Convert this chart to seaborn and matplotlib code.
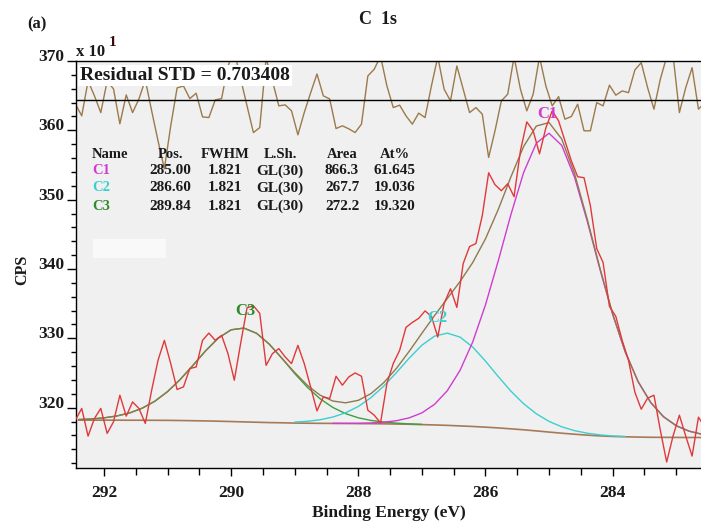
import numpy as np
import pandas as pd
import matplotlib
matplotlib.use("Agg")
import matplotlib.pyplot as plt
import seaborn as sns
from matplotlib.patches import Rectangle
from matplotlib.ticker import MultipleLocator

# ---------------- data (CPS in units of x10) ----------------
raw_be = [292.45, 292.35, 292.25, 292.15, 292.05, 291.95, 291.85, 291.75, 291.65, 291.55,
          291.45, 291.35, 291.25, 291.15, 291.05, 290.95, 290.85, 290.75, 290.65, 290.55,
          290.45, 290.35, 290.25, 290.15, 290.05, 289.95, 289.85, 289.75, 289.65, 289.55,
          289.45, 289.35, 289.25, 289.15, 289.05, 288.95, 288.85, 288.75, 288.65, 288.55,
          288.45, 288.35, 288.25, 288.15, 288.05, 287.95, 287.85, 287.75, 287.65, 287.55,
          287.45, 287.35, 287.25, 287.15, 287.05, 286.95, 286.85, 286.75, 286.65, 286.55,
          286.45, 286.35, 286.25, 286.15, 286.05, 285.95, 285.85, 285.75, 285.65, 285.55,
          285.45, 285.35, 285.25, 285.15, 285.05, 284.95, 284.85, 284.75, 284.65, 284.55,
          284.45, 284.35, 284.25, 284.15, 284.05, 283.95, 283.85, 283.75, 283.65, 283.55,
          283.45, 283.35, 283.25, 283.15, 283.05, 282.95, 282.85, 282.75, 282.65, 282.55]

raw_cps = [318.20, 319.89, 315.90, 318.45, 319.89, 316.29, 317.96, 321.80, 318.78, 320.83,
           319.89, 317.73, 322.52, 326.83, 329.71, 326.36, 322.62, 323.00, 325.64, 325.87,
           329.71, 330.76, 329.71, 330.43, 327.80, 323.96, 329.30, 334.40, 334.70, 333.60,
           326.10, 327.80, 328.52, 327.31, 326.36, 328.99, 326.36, 323.00, 319.54, 321.55,
           321.32, 324.53, 323.24, 324.43, 325.01, 324.53, 319.64, 318.92, 317.81, 323.48,
           326.37, 328.27, 331.58, 332.30, 332.88, 333.96, 333.17, 330.19, 335.04, 337.15,
           334.46, 340.79, 343.24, 343.67, 347.70, 353.88, 352.16, 351.29, 352.30, 350.43,
           357.05, 361.22, 359.93, 356.62, 360.36, 362.81, 361.37, 358.49, 355.61, 353.31,
           353.17, 349.14, 342.95, 340.94, 334.60, 333.17, 329.71, 326.83, 322.23, 319.78,
           321.37, 321.80, 316.76, 312.16, 315.90, 318.92, 315.90, 313.02, 318.63, 317.19]

residual = [-0.58, -2.30, 2.73, 0.58, -1.83, 2.73, 1.58, -3.45, 0.72, -1.83,
            0.14, 2.88, -1.58, -5.90, -9.93, -3.74, 1.73, 2.01, 0.19, 0.96,
            -2.45, -2.55, 0.00, 0.19, 4.89, 7.05, 3.02, -0.86, -4.71, -3.99,
            6.00, 2.73, -0.86, -0.72, -1.58, -5.04, -1.83, 1.01, 3.74, 0.58,
            0.14, -4.13, -3.74, -4.17, -4.71, -3.50, 3.45, 4.42, 6.30, 2.01,
            -1.11, -0.76, -2.30, -3.50, -1.91, -2.55, 2.01, 6.20, 1.54, -0.14,
            4.89, 1.54, -1.83, -1.11, -2.06, -8.30, -4.46, -0.14, 0.82, 6.20,
            1.54, -1.58, 0.82, 6.20, 2.01, -0.86, 0.47, -2.78, -2.40, -0.62,
            -4.46, -4.46, -0.39, -0.86, 2.12, 0.68, 1.29, 1.05, 4.32, 5.37,
            1.77, -1.34, 2.98, 6.20, 6.50, -1.83, 1.77, 4.65, -1.34, -0.39]
residual_zero = 364.39

comp_be = [292.4, 292.2, 292.0, 291.8, 291.6, 291.4, 291.2, 291.0, 290.8, 290.6,
           290.4, 290.2, 290.0, 289.8, 289.6, 289.4, 289.2, 289.0, 288.8, 288.6,
           288.4, 288.2, 288.0, 287.8, 287.6, 287.4, 287.2, 287.0, 286.8, 286.6,
           286.4, 286.2, 286.0, 285.8, 285.6, 285.4, 285.2, 285.0, 284.8, 284.6,
           284.4, 284.2, 284.0, 283.8, 283.6, 283.4, 283.2, 283.0, 282.8, 282.6]

background = [318.20, 318.20, 318.20, 318.20, 318.19, 318.19, 318.18, 318.17, 318.15, 318.12,
              318.09, 318.05, 318.00, 317.95, 317.90, 317.85, 317.82, 317.78, 317.76, 317.74,
              317.73, 317.72, 317.70, 317.69, 317.67, 317.64, 317.61, 317.56, 317.51, 317.45,
              317.37, 317.29, 317.19, 317.08, 316.95, 316.81, 316.65, 316.48, 316.32, 316.17,
              316.04, 315.93, 315.85, 315.80, 315.76, 315.73, 315.72, 315.71, 315.70, 315.70]

nan = np.nan
c1_height = [nan, nan, nan, nan, nan, nan, nan, nan, nan, nan,
             nan, nan, nan, nan, nan, nan, nan, nan, nan, nan,
             0.01, 0.02, 0.05, 0.11, 0.24, 0.48, 0.92, 1.69, 2.98, 5.00,
             8.01, 12.20, 17.63, 24.06, 30.89, 37.10, 41.50, 43.10, 41.50, 37.10,
             30.89, 24.06, 17.63, 12.20, 8.01, 5.00, 2.98, 1.69, 0.92, 0.48]
c2_height = [nan, nan, nan, nan, nan, nan, nan, nan, nan, nan,
             nan, nan, nan, nan, nan, nan, nan, 0.15, 0.28, 0.52,
             0.92, 1.54, 2.47, 3.76, 5.44, 7.42, 9.53, 11.45, 12.81, 13.30,
             12.81, 11.45, 9.53, 7.42, 5.44, 3.76, 2.47, 1.54, 0.92, 0.52,
             0.28, 0.15, 0.07, 0.04, nan, nan, nan, nan, nan, nan]
c3_height = [0.09, 0.17, 0.33, 0.60, 1.04, 1.73, 2.75, 4.15, 5.93, 7.99,
             10.13, 12.00, 13.23, 13.53, 12.83, 11.31, 9.29, 7.14, 5.17, 3.54,
             2.30, 1.42, 0.84, 0.47, 0.26, 0.13, 0.06, 0.03, nan, nan,
             nan, nan, nan, nan, nan, nan, nan, nan, nan, nan,
             nan, nan, nan, nan, nan, nan, nan, nan, nan, nan]

comp_names = ["C1", "C2", "C3"]
comp_pos = ["285.00", "286.60", "289.84"]
comp_fwhm = ["1.821", "1.821", "1.821"]
comp_lsh = ["GL(30)", "GL(30)", "GL(30)"]
comp_area = ["866.3", "267.7", "272.2"]
comp_at = ["61.645", "19.036", "19.320"]
label_be = [285.02, 286.76, 289.77]
label_cps = [362.3, 332.9, 334.0]

# ---------------- styling ----------------
sns.set_theme(style="ticks")
plt.rcParams['font.family'] = ['Liberation Serif', 'DejaVu Serif']
plt.rcParams['font.weight'] = 'bold'
plt.rcParams['axes.labelweight'] = 'bold'

RED = '#e0393a'
ENV = '#8f7a50'
BG = '#a67a58'
RES = '#9b7a4c'
MAG = '#d03cd0'
CYA = '#3ccfd0'
GRN = '#3f9f3f'
GRN_TXT = '#2f8a2f'
DARK = '#1a1a1a'
comp_text_colors = [MAG, CYA, GRN_TXT]

W, H = 701, 522
fig = plt.figure(figsize=(W / 100, H / 100), dpi=100)
ax = fig.add_axes([76 / W, 54 / H, 625 / W, 407 / H])
ax.set_facecolor('#f0f0f0')

def fx(px):
    return px / W

def fy(py):
    return 1 - py / H

# light patch (legend remnant)
fig.patches.append(Rectangle((fx(93), fy(258)), (166 - 93) / W, (258 - 239) / H,
                             transform=fig.transFigure, facecolor='#f9f9f9',
                             edgecolor='none', zorder=3))

# residual trace
res_df = pd.DataFrame({'be': raw_be, 'r': np.array(residual) + residual_zero})
sns.lineplot(data=res_df, x='be', y='r', color=RES, lw=1.0, ax=ax, sort=False,
             estimator=None, zorder=2)
ax.axhline(residual_zero, color='black', lw=1.0, zorder=2.5)

# background and components
comp_df = pd.DataFrame({'be': comp_be, 'bg': background,
                        'c1': c1_height, 'c2': c2_height, 'c3': c3_height})
comp_df['env'] = comp_df['bg'] + comp_df[['c1', 'c2', 'c3']].fillna(0).sum(axis=1)

sns.lineplot(data=comp_df, x='be', y='bg', color=BG, lw=1.2, ax=ax, sort=False,
             estimator=None, zorder=4)
for col, c in zip(['c3', 'c2', 'c1'], [GRN, CYA, MAG]):
    sub = comp_df.dropna(subset=[col])
    sns.lineplot(x=sub['be'], y=sub['bg'] + sub[col], color=c, lw=1.0, ax=ax,
                 sort=False, estimator=None, zorder=5)
sns.lineplot(data=comp_df, x='be', y='env', color=ENV, lw=1.0, ax=ax, sort=False,
             estimator=None, zorder=6)

# raw data
raw_df = pd.DataFrame({'be': raw_be, 'cps': raw_cps})
sns.lineplot(data=raw_df, x='be', y='cps', color=RED, lw=1.0, ax=ax, sort=False,
             estimator=None, zorder=7)

# component labels
for name, xb, yc, c in zip(comp_names, label_be, label_cps, comp_text_colors):
    ax.text(xb, yc, name, color=c, fontsize=12, fontweight='bold',
            ha='center', va='center', zorder=8)

# axes limits / ticks
ax.set_xlim(292.44, 282.61)
ax.set_ylim(311.3, 370)
ax.xaxis.set_major_locator(MultipleLocator(2))
ax.xaxis.set_minor_locator(MultipleLocator(0.5))
ax.yaxis.set_major_locator(MultipleLocator(10))
ax.yaxis.set_minor_locator(MultipleLocator(2))
ax.tick_params(axis='x', which='major', direction='out', length=6, width=1,
               color='black', labelsize=12.5, pad=6, labelcolor=DARK)
ax.tick_params(axis='x', which='minor', direction='out', length=5, width=1,
               color='black')
ax.tick_params(axis='y', which='major', direction='out', length=6.5, width=1,
               color='black', labelsize=12.5, pad=2, labelcolor=DARK)
ax.tick_params(axis='y', which='minor', direction='out', length=3.5, width=1,
               color='black')
for lab in ax.get_yticklabels():
    lab.set_va('baseline')
    lab.set_fontweight('bold')
for lab in ax.get_xticklabels():
    lab.set_fontweight('bold')

for side in ['left', 'bottom', 'top']:
    ax.spines[side].set_color('black')
    ax.spines[side].set_linewidth(1.0)
ax.spines['right'].set_visible(False)

ax.set_xlabel('Binding Energy (eV)', fontsize=12.5, fontweight='bold',
              labelpad=3, color=DARK)
ax.set_ylabel('')

# figure texts
fig.text(fx(22), fy(270), 'CPS', rotation=90, ha='center', va='center',
         fontsize=11.5, fontweight='bold', color=DARK)
fig.text(fx(378), fy(20), 'C  1s', ha='center', va='center', fontsize=13,
         fontweight='bold', color=DARK)
fig.text(fx(27), fy(24), '(a)', ha='left', va='center', fontsize=12,
         fontweight='bold', color=DARK)
fig.text(fx(76), fy(56), 'x 10', ha='left', va='baseline', fontsize=12,
         fontweight='bold', color=DARK)
fig.text(fx(109), fy(46), '1', ha='left', va='baseline', fontsize=11,
         fontweight='bold', color='#3a0a0a')

ax.text(0.0065, 1 - (80 - 61) / 407, 'Residual STD = 0.703408',
        transform=ax.transAxes, ha='left', va='baseline', fontsize=14,
        fontweight='bold', color=DARK, zorder=9,
        bbox=dict(facecolor='white', edgecolor='none', pad=1.5))

# parameter table
col_x = [92, 170, 225, 280, 342, 395]
headers = ['Name', 'Pos.', 'FWHM', 'L.Sh.', 'Area', 'At%']
row_y = [154, 171, 188, 206]
for j, (hx, htxt) in enumerate(zip(col_x, headers)):
    fig.text(fx(hx), fy(row_y[0]), htxt, ha='left' if j == 0 else 'center',
             va='center', fontsize=10.5, fontweight='bold', color=DARK)
for i in range(3):
    vals = [comp_names[i], comp_pos[i], comp_fwhm[i], comp_lsh[i],
            comp_area[i], comp_at[i]]
    for j, (hx, v) in enumerate(zip(col_x, vals)):
        fig.text(fx(hx), fy(row_y[i + 1]), v, ha='left' if j == 0 else 'center',
                 va='center', fontsize=11 if j else 10.5, fontweight='bold',
                 color=comp_text_colors[i] if j == 0 else DARK)

fig.savefig('out.png', dpi=100, facecolor='white')
